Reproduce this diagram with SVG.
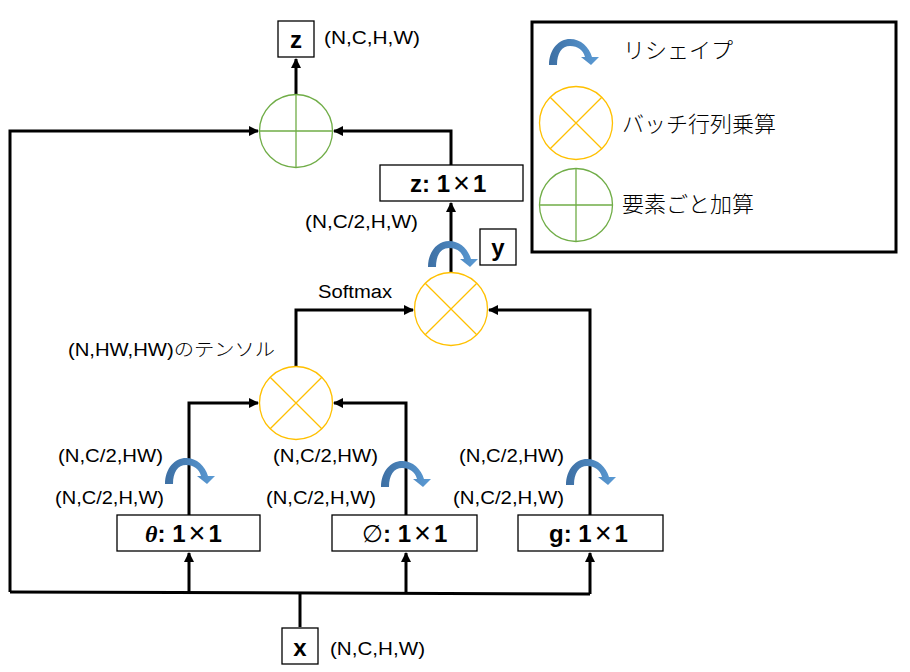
<svg xmlns="http://www.w3.org/2000/svg" width="910" height="672" viewBox="0 0 910 672">
<style>
.ln{fill:none;stroke:#000;stroke-width:3}
.bx{fill:#fff;stroke:#000;stroke-width:1.3}
.mul{fill:#fff;stroke:#ffc000;stroke-width:1.3}
.mulx{stroke:#ffc000;stroke-width:1.3}
.add{fill:#fff;stroke:#70ad47;stroke-width:1.3}
.addx{stroke:#70ad47;stroke-width:1.3}
.lbl{font-family:"Liberation Sans",Arial,sans-serif;font-size:18px;fill:#000}
.bl{font-family:"Liberation Sans",Arial,sans-serif;font-size:24px;font-weight:bold;fill:#000}
.tm{font-weight:normal;font-size:29px}
.jp{font-family:"Noto Sans CJK JP","Noto Sans",sans-serif;font-size:22px;fill:#000;font-weight:300}
</style>
<defs>
<marker id="ah" viewBox="0 0 10 10" refX="9" refY="5" markerWidth="3.4" markerHeight="3.4" orient="auto" markerUnits="strokeWidth">
<path d="M0,0 L10,5 L0,10 Z" fill="#000"/>
</marker>
<linearGradient id="bg" x1="0" y1="0" x2="1" y2="0">
<stop offset="0" stop-color="#3d6fa3"/>
<stop offset="1" stop-color="#5b9bd5"/>
</linearGradient>
<path id="rs" d="M0,26 C0,10 10,0 21,0 C32,0 40,8 43,18 L50,18 L42,26 L32,18 L36,18 C34,11 29,7 21,7 C13,7 8,14 8,26 Z" fill="url(#bg)"/>
<g id="mulsym"><circle r="36.5" class="mul"/><path d="M-25.8,-25.8 L25.8,25.8 M25.8,-25.8 L-25.8,25.8" class="mulx"/></g>
<g id="addsym"><circle r="36.5" class="add"/><path d="M-36.5,0 H36.5 M0,-36.5 V36.5" class="addx"/></g>
</defs>

<g id="connectors">
<path class="ln" d="M300,627 V593"/>
<path class="ln" d="M10,592 L590,594"/>
<path class="ln" d="M189,592.5 V553" marker-end="url(#ah)"/>
<path class="ln" d="M406,593 V553" marker-end="url(#ah)"/>
<path class="ln" d="M590,594 V553" marker-end="url(#ah)"/>
<path class="ln" d="M10,592 V131 H258" marker-end="url(#ah)"/>
<path class="ln" d="M189,515 V403 H258" marker-end="url(#ah)"/>
<path class="ln" d="M406,515 V403 H334" marker-end="url(#ah)"/>
<path class="ln" d="M590,515 V310 H489" marker-end="url(#ah)"/>
<path class="ln" d="M296,366 V310 H413" marker-end="url(#ah)"/>
<path class="ln" d="M451,272 V203" marker-end="url(#ah)"/>
<path class="ln" d="M451,165 V131 H334" marker-end="url(#ah)"/>
<path class="ln" d="M296,94 V59" marker-end="url(#ah)"/>
</g>

<g id="node-x">
<rect class="bx" x="282" y="628" width="36" height="36"/>
<text class="bl" x="300" y="656" text-anchor="middle">x</text>
<text class="lbl" x="330" y="655" textLength="95" lengthAdjust="spacingAndGlyphs">(N,C,H,W)</text>
</g>

<g id="node-theta">
<rect class="bx" x="117" y="515" width="143" height="36"/>
<text class="bl" x="145" y="542"><tspan font-family="Liberation Serif" font-style="italic">θ</tspan>: 1<tspan class="tm" dx="3" dy="1">×</tspan><tspan dx="3" dy="-1">1</tspan></text>
</g>
<g id="node-phi">
<rect class="bx" x="332" y="515" width="145" height="36"/>
<text class="bl" x="362" y="542"><tspan font-weight="normal">∅</tspan>: 1<tspan class="tm" dx="3" dy="1">×</tspan><tspan dx="3" dy="-1">1</tspan></text>
</g>
<g id="node-g">
<rect class="bx" x="518" y="515" width="145" height="36"/>
<text class="bl" x="549" y="542">g: 1<tspan class="tm" dx="3" dy="1">×</tspan><tspan dx="3" dy="-1">1</tspan></text>
</g>

<g id="labels-theta">
<text class="lbl" x="58" y="462" textLength="105" lengthAdjust="spacingAndGlyphs">(N,C/2,HW)</text>
<text class="lbl" x="55" y="504" textLength="109" lengthAdjust="spacingAndGlyphs">(N,C/2,H,W)</text>
<use href="#rs" x="165" y="458"/>
</g>
<g id="labels-phi">
<text class="lbl" x="273" y="462" textLength="105" lengthAdjust="spacingAndGlyphs">(N,C/2,HW)</text>
<text class="lbl" x="266" y="504" textLength="110" lengthAdjust="spacingAndGlyphs">(N,C/2,H,W)</text>
<use href="#rs" x="381" y="461"/>
</g>
<g id="labels-g">
<text class="lbl" x="459" y="462" textLength="105" lengthAdjust="spacingAndGlyphs">(N,C/2,HW)</text>
<text class="lbl" x="453" y="504" textLength="111" lengthAdjust="spacingAndGlyphs">(N,C/2,H,W)</text>
<use href="#rs" x="566" y="459"/>
</g>

<g id="node-matmul1">
<use href="#mulsym" x="296" y="403"/>
<text class="lbl" x="68" y="356" textLength="207" lengthAdjust="spacingAndGlyphs">(N,HW,HW)<tspan font-family="Noto Sans CJK JP" font-weight="300">のテンソル</tspan></text>
</g>

<g id="node-matmul2">
<use href="#mulsym" x="451" y="309"/>
<text class="lbl" x="318" y="298" textLength="74" lengthAdjust="spacingAndGlyphs">Softmax</text>
<use href="#rs" x="428" y="241"/>
</g>

<g id="node-y">
<rect class="bx" x="480" y="229" width="36" height="36"/>
<text class="bl" x="498" y="256" text-anchor="middle">y</text>
</g>

<g id="node-zconv">
<rect class="bx" x="380" y="165" width="143" height="36"/>
<text class="bl" x="410" y="192">z: 1<tspan class="tm" dx="3" dy="1">×</tspan><tspan dx="3" dy="-1">1</tspan></text>
<text class="lbl" x="305" y="228" textLength="113" lengthAdjust="spacingAndGlyphs">(N,C/2,H,W)</text>
</g>

<g id="node-add">
<use href="#addsym" x="296" y="131"/>
</g>

<g id="node-z">
<rect class="bx" x="278" y="21" width="36" height="36"/>
<text class="bl" x="296" y="48" text-anchor="middle">z</text>
<text class="lbl" x="324" y="44" textLength="96" lengthAdjust="spacingAndGlyphs">(N,C,H,W)</text>
</g>

<g id="legend">
<rect x="532" y="22" width="364" height="230" fill="#fff" stroke="#000" stroke-width="3"/>
<use href="#rs" x="549" y="39"/>
<text class="jp" x="623" y="58">リシェイプ</text>
<use href="#mulsym" x="576" y="123"/>
<text class="jp" x="622" y="132">バッチ行列乗算</text>
<use href="#addsym" x="576" y="205"/>
<text class="jp" x="622" y="212">要素ごと加算</text>
</g>
</svg>
